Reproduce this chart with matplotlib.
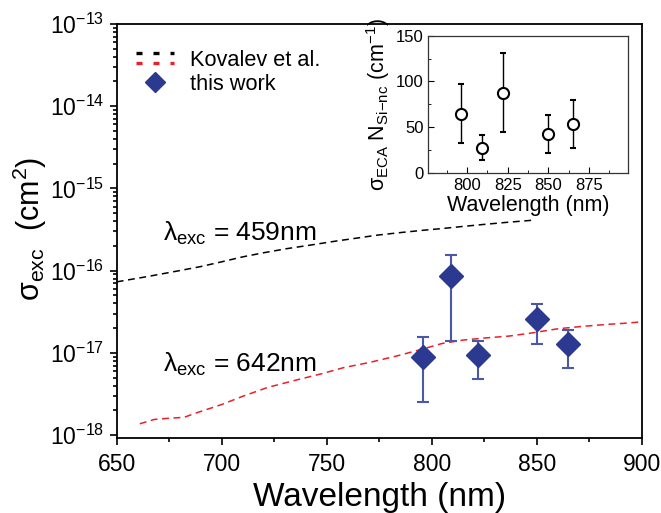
import numpy as np
import matplotlib
matplotlib.use("Agg")
import matplotlib.pyplot as plt
from matplotlib.lines import Line2D
from matplotlib.legend_handler import HandlerBase
from matplotlib.ticker import LogLocator, FixedLocator, MultipleLocator

plt.rcParams['font.family'] = ['Liberation Sans', 'DejaVu Sans']
plt.rcParams['mathtext.fontset'] = 'custom'
plt.rcParams['mathtext.rm'] = 'Liberation Sans'
plt.rcParams['mathtext.it'] = 'Liberation Sans:italic'
plt.rcParams['mathtext.bf'] = 'Liberation Sans:bold'

# Kovalev et al. curves
wl_459 = [650, 665, 679, 690, 700, 710, 720, 731, 742, 755, 765, 774, 785, 795, 805, 815, 825, 835, 848]
sig_459 = [7.3e-17, 8.5e-17, 9.9e-17, 1.12e-16, 1.28e-16, 1.47e-16, 1.65e-16, 1.85e-16, 2.04e-16,
           2.3e-16, 2.5e-16, 2.7e-16, 2.9e-16, 3.08e-16, 3.25e-16, 3.45e-16, 3.65e-16, 3.85e-16, 4.1e-16]

wl_642 = [661, 668, 675, 682, 688, 700, 710, 722, 736, 748, 758, 770, 783, 795, 805, 815, 826, 837, 848, 860, 872, 884, 891, 900]
sig_642 = [1.37e-18, 1.55e-18, 1.6e-18, 1.64e-18, 1.86e-18, 2.35e-18, 2.96e-18, 3.8e-18, 4.7e-18, 5.6e-18,
           6.6e-18, 7.6e-18, 9.1e-18, 1.1e-17, 1.3e-17, 1.43e-17, 1.52e-17, 1.6e-17, 1.75e-17, 1.96e-17,
           2.1e-17, 2.22e-17, 2.28e-17, 2.38e-17]

# this work
wl_pts = [796, 809, 822, 850, 865]
sig_pts = [9.0e-18, 8.7e-17, 9.5e-18, 2.57e-17, 1.29e-17]
sig_hi = [1.55e-17, 1.55e-16, 1.41e-17, 3.9e-17, 1.9e-17]
sig_lo = [2.55e-18, 1.38e-17, 4.8e-18, 1.27e-17, 6.6e-18]

# inset: sigma_ECA * N_Si-nc
ins_val = [64.2, 27.0, 87.6, 42.0, 52.9]
ins_hi = [96.7, 40.9, 131.4, 62.8, 79.6]
ins_lo = [32.1, 13.9, 44.2, 21.2, 26.6]

y_major = [1e-18, 1e-17, 1e-16, 1e-15, 1e-14, 1e-13]

navy = '#2b3990'
errc = '#4a58a8'

fig = plt.figure(figsize=(6.61, 5.13), dpi=100)
ax = fig.add_axes([0.1766, 0.1462, 0.7942, 0.807])

ax.plot(wl_459, sig_459, color='black', lw=1.1, dashes=(4.5, 3))
ax.plot(wl_642, sig_642, color='#e8202a', lw=1.1, dashes=(4.5, 3))

yerr = [np.array(sig_pts) - np.array(sig_lo), np.array(sig_hi) - np.array(sig_pts)]
ax.errorbar(wl_pts, sig_pts, yerr=yerr, fmt='none', ecolor=errc, elinewidth=1.5,
            capsize=4.5, capthick=1.5, zorder=3)
ax.plot(wl_pts, sig_pts, 'D', color=navy, ms=12.5, zorder=4)

ax.set_yscale('log')
ax.set_xlim(650, 900)
ax.set_ylim(9.2e-19, 1e-13)
ax.xaxis.set_major_locator(MultipleLocator(50))
ax.xaxis.set_minor_locator(MultipleLocator(25))
ax.yaxis.set_major_locator(FixedLocator(y_major))
ax.yaxis.set_minor_locator(LogLocator(base=10, subs=np.arange(2, 10), numticks=20))
ax.tick_params(which='both', direction='out', labelsize=16.5, width=1.2)
ax.tick_params(which='major', length=5)
ax.tick_params(which='minor', length=3)
ax.tick_params(axis='x', pad=6)
ax.tick_params(axis='y', pad=4)
for s in ax.spines.values():
    s.set_linewidth(1.3)

ax.set_xlabel('Wavelength (nm)', fontsize=24, labelpad=4)
ax.set_ylabel(r'σ$_{\mathrm{exc}}$  (cm$^{2}$)', fontsize=22)
ax.yaxis.set_label_coords(-0.129, 0.506)

ax.text(672, 2.8e-16, r'λ$_{\mathrm{exc}}$ = 459nm', fontsize=19, va='center', ha='left')
ax.text(672, 7.2e-18, r'λ$_{\mathrm{exc}}$ = 642nm', fontsize=19, va='center', ha='left')


class TwoLines(HandlerBase):
    def create_artists(self, legend, orig_handle, xdescent, ydescent, width, height, fontsize, trans):
        arts = []
        for h, frac in zip(orig_handle, (0.85, 0.2)):
            ln = Line2D([-xdescent, width - xdescent], [frac * height - ydescent] * 2,
                        color=h.get_color(), lw=2.4, dashes=(1.8, 3.3))
            ln.set_transform(trans)
            arts.append(ln)
        return arts


h_black = Line2D([], [], color='black')
h_red = Line2D([], [], color='#e8202a')
h_pts = Line2D([], [], marker='D', ls='none', color=navy, ms=10.5)
leg = ax.legend([(h_black, h_red), h_pts], ['Kovalev et al.', 'this work'],
                handler_map={tuple: TwoLines()}, loc='upper left', frameon=False,
                fontsize=15.7, handlelength=1.75, handletextpad=0.7, labelspacing=0.15,
                borderaxespad=0.4, bbox_to_anchor=(0.004, 0.98))

# inset
ins = fig.add_axes([0.648, 0.6634, 0.3016, 0.267])
ierr = [np.array(ins_val) - np.array(ins_lo), np.array(ins_hi) - np.array(ins_val)]
ins.errorbar(wl_pts, ins_val, yerr=ierr, fmt='o', color='black', mfc='white', mec='black',
             ms=8, mew=1.5, elinewidth=1.0, capsize=2, capthick=1.0)
ins.set_xlim(776, 899)
ins.set_ylim(0, 150)
ins.xaxis.set_major_locator(FixedLocator([800, 825, 850, 875]))
ins.xaxis.set_minor_locator(MultipleLocator(12.5))
ins.yaxis.set_major_locator(MultipleLocator(50))
ins.yaxis.set_minor_locator(MultipleLocator(25))
ins.tick_params(which='both', direction='in', labelsize=12)
ins.tick_params(which='major', length=4)
ins.tick_params(which='minor', length=2.5)
for s in ins.spines.values():
    s.set_linewidth(0.9)
    s.set_color('#333333')
ins.set_xlabel('Wavelength (nm)', fontsize=15.5, labelpad=2)
ins.set_ylabel(r'σ$_{\mathrm{ECA}}$ N$_{\mathrm{Si{-}nc}}$ (cm$^{-1}$)', fontsize=15.5, labelpad=3)

fig.savefig('out.png', dpi=100)
